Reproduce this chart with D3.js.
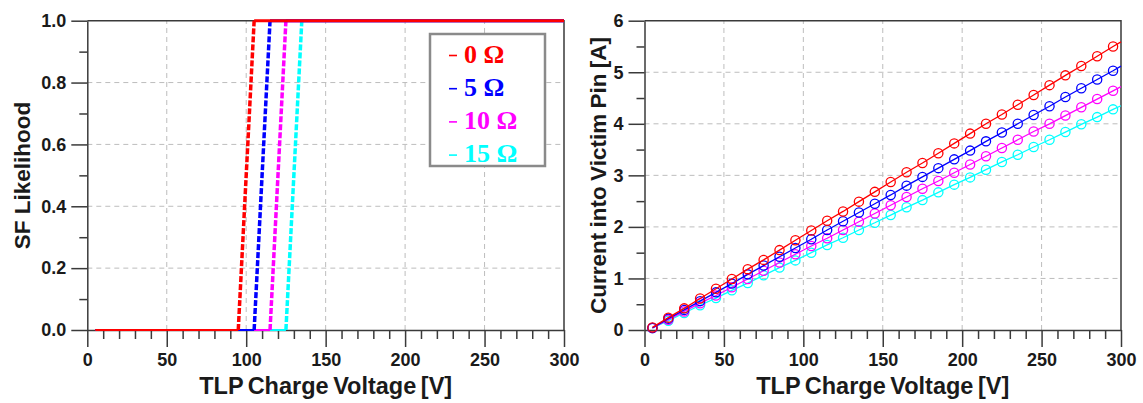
<!DOCTYPE html>
<html><head><meta charset="utf-8">
<script src="https://cdn.jsdelivr.net/npm/d3@7"></script>
<style>
html,body{margin:0;padding:0;background:#fff;}
svg{display:block;}
</style></head>
<body>
<svg id="chart" width="1143" height="403"></svg>
<script>
// ---------------- DATA ----------------
const seriesNames = ["0 Ω", "5 Ω", "10 Ω", "15 Ω"];
const seriesColors = ["#ff0000", "#0000ff", "#ff00ff", "#00ffff"];

const xTicks = [0, 50, 100, 150, 200, 250, 300];
const xMinorTicks = [10,20,30,40,60,70,80,90,110,120,130,140,160,170,180,190,210,220,230,240,260,270,280,290];
const sfTicks = [0, 0.2, 0.4, 0.6, 0.8, 1.0];
const sfMinorTicks = [0.1, 0.3, 0.5, 0.7, 0.9];
const curTicks = [0, 1, 2, 3, 4, 5, 6];
const curMinorTicks = [0.5, 1.5, 2.5, 3.5, 4.5, 5.5];

// SF likelihood vs TLP charge voltage: [voltage, likelihood]
const sf0 = [[5, 0], [95, 0], [105, 1], [300, 1]];
const sf5 = [[5, 0], [105, 0], [115, 1], [300, 1]];
const sf10 = [[5, 0], [115, 0], [125, 1], [300, 1]];
const sf15 = [[5, 0], [125, 0], [135, 1], [300, 1]];

// Current into victim pin vs TLP charge voltage
const voltages = [5,15,25,35,45,55,65,75,85,95,105,115,125,135,145,155,165,175,185,195,205,215,225,235,245,255,265,275,285,295,300];
const cur0 = [0.05,0.24,0.42,0.61,0.80,0.99,1.18,1.36,1.55,1.74,1.93,2.12,2.30,2.49,2.68,2.87,3.06,3.24,3.43,3.62,3.81,4.00,4.18,4.37,4.56,4.75,4.94,5.12,5.31,5.50,5.59];
const cur5 = [0.04,0.22,0.39,0.56,0.73,0.90,1.08,1.25,1.42,1.59,1.76,1.94,2.11,2.28,2.45,2.62,2.80,2.97,3.14,3.31,3.48,3.66,3.83,4.00,4.17,4.34,4.52,4.69,4.86,5.03,5.12];
const cur10 = [0.04,0.20,0.36,0.52,0.67,0.83,0.99,1.15,1.31,1.47,1.63,1.78,1.94,2.10,2.26,2.42,2.58,2.74,2.89,3.05,3.21,3.37,3.53,3.69,3.85,4.00,4.16,4.32,4.48,4.64,4.72];
const cur15 = [0.04,0.18,0.33,0.48,0.62,0.77,0.91,1.06,1.21,1.35,1.50,1.65,1.79,1.94,2.08,2.23,2.38,2.52,2.67,2.82,2.96,3.11,3.26,3.40,3.55,3.69,3.84,3.99,4.13,4.28,4.35];

// ---------------- DRAW ----------------
const svg = d3.select("#chart");
const AX = "#3a3a3a";
const GRID = "#bdbdbd";
const FONT = "'Liberation Sans', Arial, sans-serif";

function panel(xRange, yRange, yDomain, yMajor, yMinor, yFmt) {
  const x = d3.scaleLinear().domain([0, 300]).range(xRange);
  const y = d3.scaleLinear().domain(yDomain).range(yRange);
  const g = svg.append("g");
  g.selectAll(".gx").data(xTicks.slice(1, -1)).join("line")
    .attr("x1", d => x(d)).attr("x2", d => x(d))
    .attr("y1", y.range()[0]).attr("y2", y.range()[1])
    .attr("stroke", GRID).attr("stroke-width", 1).attr("stroke-dasharray", "5,4");
  g.selectAll(".gy").data(yMajor.slice(1, -1)).join("line")
    .attr("y1", d => y(d)).attr("y2", d => y(d))
    .attr("x1", x.range()[0]).attr("x2", x.range()[1])
    .attr("stroke", GRID).attr("stroke-width", 1).attr("stroke-dasharray", "5,4");
  g.append("path")
    .attr("d", `M${x.range()[0]},${y.range()[1]}H${x.range()[1]}V${y.range()[0]}`)
    .attr("fill", "none").attr("stroke", AX).attr("stroke-width", 1.5);
  const xb = g.append("g").attr("transform", `translate(0,${y.range()[0]})`)
    .call(d3.axisBottom(x).tickValues(xTicks).tickSize(17).tickPadding(6).tickSizeOuter(0));
  const xm = g.append("g").attr("transform", `translate(0,${y.range()[0]})`)
    .call(d3.axisBottom(x).tickValues(xMinorTicks).tickSize(9).tickFormat(""));
  const yl = g.append("g").attr("transform", `translate(${x.range()[0]},0)`)
    .call(d3.axisLeft(y).tickValues(yMajor).tickSize(16).tickPadding(5).tickFormat(yFmt).tickSizeOuter(0));
  const ym = g.append("g").attr("transform", `translate(${x.range()[0]},0)`)
    .call(d3.axisLeft(y).tickValues(yMinor).tickSize(8).tickFormat(""));
  [xm, ym].forEach(a => a.select(".domain").remove());
  [xb, xm, yl, ym].forEach(a => {
    a.selectAll("line").attr("stroke", AX).attr("stroke-width", 1.5);
    a.selectAll(".domain").attr("stroke", AX).attr("stroke-width", 1.5);
    a.selectAll("text").attr("font-family", FONT).attr("font-weight", "bold")
      .attr("font-size", 18).attr("fill", "#1a1a1a");
  });
  return {x, y, g};
}

// ---- Left panel ----
const L = panel([87.3, 564], [330, 20.7], [0, 1], sfTicks, sfMinorTicks, d3.format(".1f"));
const sfData = [sf0, sf5, sf10, sf15];
const leftLine = d3.line().x(d => L.x(d[0])).y(d => L.y(d[1]));
[3, 2, 1, 0].forEach(i => {
  const segs = d3.pairs(sfData[i]);
  L.g.append("g").selectAll("path").data(segs).join("path")
    .attr("d", d => leftLine(d))
    .attr("fill", "none")
    .attr("stroke", seriesColors[i])
    .attr("stroke-width", d => d[0][1] !== d[1][1] ? 3.5 : (d[0][1] === 0 ? 2 : 3))
    .attr("stroke-dasharray", d => d[0][1] !== d[1][1] ? "6,2" : null);
});

// legend
const lg = L.g.append("g");
lg.append("rect").attr("x", 430).attr("y", 34).attr("width", 115).attr("height", 132)
  .attr("fill", "#fff").attr("stroke", "#8a8a8a").attr("stroke-width", 2.5);
seriesNames.forEach((name, i) => {
  const cy = 53.5 + i * 33.2;
  lg.append("line").attr("x1", 449).attr("x2", 457).attr("y1", cy + 2).attr("y2", cy + 2)
    .attr("stroke", seriesColors[i]).attr("stroke-width", 1.6);
  lg.append("text").attr("x", 464).attr("y", cy + 9)
    .attr("font-family", "'Liberation Serif', 'Times New Roman', serif")
    .attr("font-weight", "bold").attr("font-size", 26)
    .attr("fill", seriesColors[i]).text(name);
});

// ---- Right panel ----
const R = panel([644.5, 1121], [330, 20.7], [0, 6], curTicks, curMinorTicks, d3.format("d"));
const curData = [cur0, cur5, cur10, cur15];
const rightLine = d3.line().x((d, j) => R.x(voltages[j])).y(d => R.y(d));
[3, 2, 1, 0].forEach(i => {
  const gs = R.g.append("g");
  gs.append("path").datum(curData[i]).attr("d", rightLine)
    .attr("fill", "none").attr("stroke", seriesColors[i]).attr("stroke-width", 1.3);
  gs.selectAll("circle")
    .data(curData[i].map((v, j) => [voltages[j], v]).filter(d => d[0] % 10 === 5))
    .join("circle")
    .attr("cx", d => R.x(d[0])).attr("cy", d => R.y(d[1])).attr("r", 4.6)
    .attr("fill", "none").attr("stroke", seriesColors[i]).attr("stroke-width", 1.3);
});

// ---- Axis titles ----
function title(txt, x, y, rot, ws, fs) {
  svg.append("text").attr("transform", `translate(${x},${y}) rotate(${rot})`)
    .attr("text-anchor", "middle").attr("font-family", FONT).attr("font-weight", "bold")
    .attr("font-size", fs).attr("word-spacing", ws).attr("fill", "#1a1a1a").text(txt);
}
title("TLP Charge Voltage [V]", (87.3 + 564) / 2, 394, 0, "-2px", 23.5);
title("TLP Charge Voltage [V]", (644.5 + 1121) / 2, 394, 0, "-2px", 23.5);
title("SF Likelihood", 30, 175.5, -90, "0px", 22.5);
title("Current into Victim Pin [A]", 606, 175.5, -90, "-1px", 22.5);
</script>
</body></html>
